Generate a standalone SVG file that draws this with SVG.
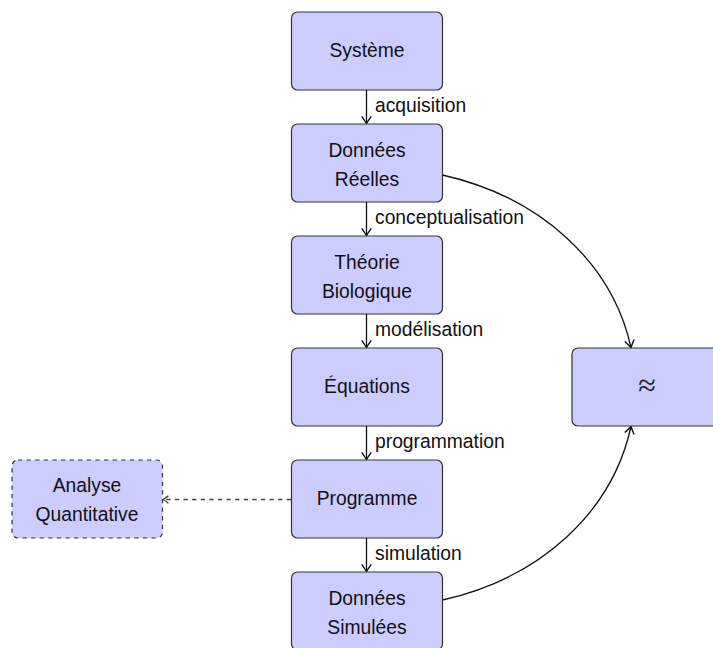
<svg xmlns="http://www.w3.org/2000/svg" width="713" height="648" viewBox="0 0 713 648">
<style>
.node rect{fill:#ccccff;stroke:#333;stroke-width:1.2}
.dashed rect{stroke-dasharray:4.3 4.3}
text{font-family:"Liberation Sans",Arial,sans-serif;font-size:19.3px;fill:#111}
.c{text-anchor:middle}
.edge{fill:none;stroke:#111;stroke-width:1.3}
.dash{stroke:#444;stroke-dasharray:4.3 4.3}
</style>
<defs>
<marker id="ar" markerUnits="userSpaceOnUse" markerWidth="12" markerHeight="12" viewBox="-7 -5 8 10" refX="0" refY="0" orient="auto">
<path d="M-6,-4 Q-2,-1.1 0,0 Q-2,1.1 -6,4" fill="none" stroke="#111" stroke-width="1.2"/>
</marker>
<marker id="ar2" markerUnits="userSpaceOnUse" markerWidth="12" markerHeight="12" viewBox="-7 -5 8 10" refX="0" refY="0" orient="auto">
<path d="M-4.5,-3 Q-1.5,-0.8 0,0 Q-1.5,0.8 -4.5,3" fill="none" stroke="#444" stroke-width="1.1"/>
</marker>
</defs>
<g id="connectors">
<path class="edge" d="M366.5,90 V123.5" marker-end="url(#ar)"/>
<path class="edge" d="M366.5,202 V235.5" marker-end="url(#ar)"/>
<path class="edge" d="M366.5,314 V347.5" marker-end="url(#ar)"/>
<path class="edge" d="M366.5,426 V459.5" marker-end="url(#ar)"/>
<path class="edge" d="M366.5,538 V571.5" marker-end="url(#ar)"/>
<path class="edge dash" d="M291,499.5 H163" marker-end="url(#ar2)"/>
<path class="edge" d="M442.5,175 C540,197 612,262 631,347.5" marker-end="url(#ar)"/>
<path class="edge" d="M442.5,600 C540,578 612,513 631,426.5" marker-end="url(#ar)"/>
<text x="375" y="112">acquisition</text>
<text x="375" y="224">conceptualisation</text>
<text x="375" y="336">modélisation</text>
<text x="375" y="448">programmation</text>
<text x="375" y="560">simulation</text>
</g>
<g id="systeme" class="node"><rect x="291.5" y="12" width="151" height="78" rx="6"/><text class="c" x="367" y="57">Système</text></g>
<g id="donnees-reelles" class="node"><rect x="291.5" y="124" width="151" height="78" rx="6"/><text class="c" x="367" y="157">Données</text><text class="c" x="367" y="186">Réelles</text></g>
<g id="theorie" class="node"><rect x="291.5" y="236" width="151" height="78" rx="6"/><text class="c" x="367" y="269">Théorie</text><text class="c" x="367" y="298">Biologique</text></g>
<g id="equations" class="node"><rect x="291.5" y="348" width="151" height="78" rx="6"/><text class="c" x="367" y="393">Équations</text></g>
<g id="programme" class="node"><rect x="291.5" y="460" width="151" height="78" rx="6"/><text class="c" x="367" y="505">Programme</text></g>
<g id="donnees-simulees" class="node"><rect x="291.5" y="572" width="151" height="78" rx="6"/><text class="c" x="367" y="605">Données</text><text class="c" x="367" y="634">Simulées</text></g>
<g id="analyse" class="node dashed"><rect x="12" y="460" width="150.5" height="78" rx="6"/><text class="c" x="87" y="492">Analyse</text><text class="c" x="87" y="521">Quantitative</text></g>
<g id="approx" class="node"><rect x="572" y="348" width="151" height="78" rx="6"/><text class="c" x="647" y="396" style="font-family:'Liberation Serif','DejaVu Serif',serif;font-size:32px;fill:#222">≈</text></g>
</svg>
